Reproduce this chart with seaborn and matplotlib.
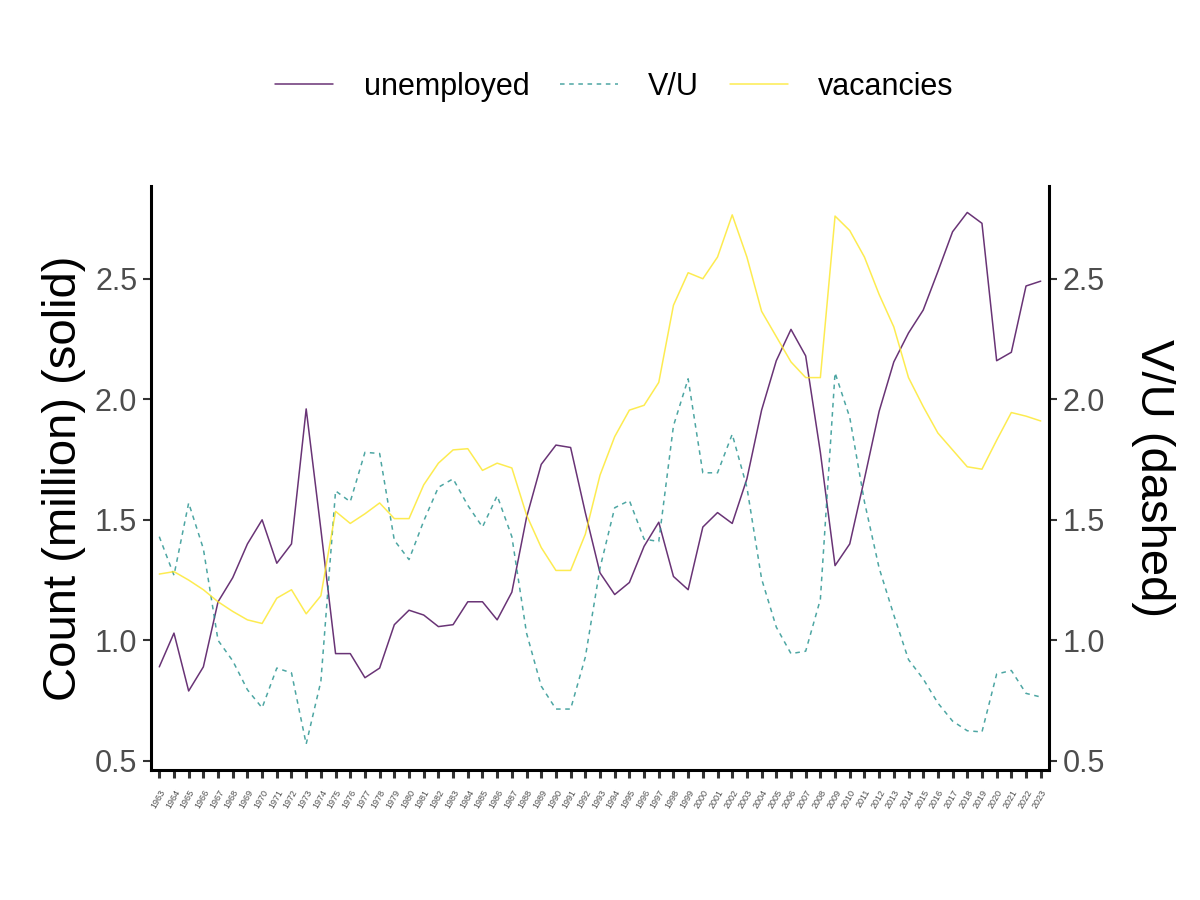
import pandas as pd
import matplotlib
matplotlib.use("Agg")
import matplotlib.pyplot as plt
import seaborn as sns

# yearly series
years = list(range(1963, 2024))
unemployed = [0.89, 1.03, 0.79, 0.89, 1.16, 1.26, 1.40, 1.50, 1.32, 1.40,
              1.96, 1.46, 0.945, 0.945, 0.845, 0.885, 1.065, 1.125, 1.105, 1.057,
              1.065, 1.16, 1.16, 1.085, 1.20, 1.51, 1.73, 1.81, 1.80, 1.53,
              1.28, 1.19, 1.24, 1.39, 1.49, 1.265, 1.21, 1.47, 1.53, 1.485,
              1.67, 1.955, 2.16, 2.29, 2.18, 1.78, 1.31, 1.40, 1.67, 1.95,
              2.155, 2.275, 2.37, 2.53, 2.695, 2.775, 2.73, 2.16, 2.195, 2.47,
              2.49]
vu = [1.43, 1.27, 1.57, 1.38, 1.00, 0.915, 0.795, 0.72, 0.885, 0.865,
      0.57, 0.83, 1.62, 1.575, 1.78, 1.775, 1.415, 1.335, 1.495, 1.635,
      1.67, 1.56, 1.47, 1.60, 1.43, 1.03, 0.81, 0.715, 0.715, 0.93,
      1.30, 1.55, 1.58, 1.42, 1.41, 1.89, 2.085, 1.695, 1.695, 1.855,
      1.635, 1.255, 1.055, 0.945, 0.955, 1.17, 2.11, 1.925, 1.575, 1.30,
      1.105, 0.92, 0.84, 0.74, 0.665, 0.625, 0.62, 0.86, 0.875, 0.78,
      0.765]
vacancies = [1.275, 1.285, 1.25, 1.21, 1.16, 1.12, 1.085, 1.07, 1.175, 1.21,
             1.11, 1.185, 1.535, 1.485, 1.525, 1.57, 1.505, 1.505, 1.645, 1.735,
             1.79, 1.795, 1.705, 1.735, 1.715, 1.52, 1.385, 1.29, 1.29, 1.44,
             1.685, 1.845, 1.955, 1.975, 2.07, 2.39, 2.525, 2.50, 2.59, 2.765,
             2.59, 2.365, 2.26, 2.155, 2.09, 2.09, 2.76, 2.70, 2.59, 2.435,
             2.30, 2.09, 1.97, 1.86, 1.79, 1.72, 1.71, 1.83, 1.945, 1.93,
             1.91]
series = ["unemployed", "V/U", "vacancies"]
yticks = [0.5, 1.0, 1.5, 2.0, 2.5]

df = pd.DataFrame({"pos": list(range(len(years))) * 3,
                   "value": unemployed + vu + vacancies,
                   "series": [s for s in series for _ in years]})

sns.set_style("ticks")
plt.rcParams["font.family"] = ["Liberation Sans", "DejaVu Sans"]

pal = {"unemployed": "#440154", "V/U": "#21908C", "vacancies": "#FDE725"}
dash = {"unemployed": "", "V/U": (3, 3), "vacancies": ""}

fig = plt.figure(figsize=(12, 9), dpi=100)
ax = fig.add_axes([0.126, 0.1444, 0.748, 0.649])
sns.lineplot(data=df, x="pos", y="value", hue="series", style="series",
             hue_order=series, style_order=series, palette=pal, dashes=dash,
             linewidth=1.1, alpha=0.8, ax=ax, legend=False)

ax.set_xlim(-0.55, len(years) - 0.45)
ax.set_ylim(0.462, 2.885)
ax.set_xticks(range(len(years)))
ax.set_xticklabels([str(y) for y in years], rotation=60, ha="right",
                   rotation_mode="anchor", fontsize=6.5, color="#4d4d4d")
ax.set_yticks(yticks)
ax.set_yticklabels([f"{t:.1f}" for t in yticks], fontsize=22, color="#4d4d4d")
ax.set_xlabel("")
ax.set_ylabel("Count (million) (solid)", fontsize=34, labelpad=6, color="black")
ax.tick_params(axis="x", length=6, width=2.2, color="#333333", pad=7)
ax.tick_params(axis="y", length=6, width=1.5, color="#333333", pad=4)
ax.spines["top"].set_visible(False)
ax.spines["right"].set_visible(False)
for s in ["left", "bottom"]:
    ax.spines[s].set_linewidth(2.2)
    ax.spines[s].set_color("black")

ax2 = ax.twinx()
ax2.set_ylim(ax.get_ylim())
ax2.set_yticks(yticks)
ax2.set_yticklabels([f"{t:.1f}" for t in yticks], fontsize=22, color="#4d4d4d")
ax2.set_ylabel("V/U (dashed)", fontsize=34, rotation=-90, labelpad=50, color="black")
ax2.tick_params(axis="y", length=6, width=1.5, color="#333333", pad=4)
ax2.spines["top"].set_visible(False)
ax2.spines["left"].set_visible(False)
ax2.spines["bottom"].set_visible(False)
ax2.spines["right"].set_linewidth(2.2)
ax2.spines["right"].set_color("black")

handles = ax.get_lines()[:3]
leg = fig.legend(handles, series, loc="center", bbox_to_anchor=(0.512, 1 - 87 / 900),
                 ncol=3, frameon=False, fontsize=22, handlelength=1.9,
                 handletextpad=1.0, columnspacing=1.0)
for t in leg.get_texts():
    t.set_color("black")

fig.savefig("out.png", dpi=100)
